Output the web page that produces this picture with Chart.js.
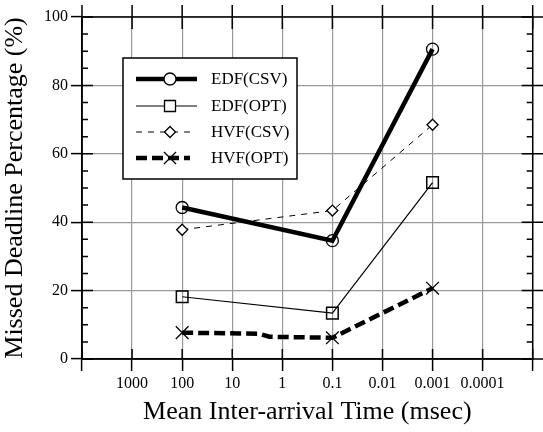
<!DOCTYPE html>
<html>
<head>
<meta charset="utf-8">
<script src="https://cdn.jsdelivr.net/npm/chart.js@4.4.1/dist/chart.umd.min.js"></script>
<style>
  html, body { margin: 0; padding: 0; background: #fff; }
  canvas { display: block; }
</style>
</head>
<body>
<canvas id="chart" width="543" height="432"></canvas>
<script>
// tick labels of the x axis (first and last grid line carry no label)
let xLabels = ['', '1000', '100', '10', '1', '0.1', '0.01', '0.001', '0.0001', ''];
// where the measured points sit: 100, 0.1, 0.001 msec
let xAt = [2, 5, 7];

let edfCsv = [44.3, 34.6, 90.6];
let edfOpt = [18.2, 13.4, 51.6];
let hvfCsv = [37.8, 43.4, 68.5];
// HVF(OPT) line has a small step between 10 and 1
let hvfOptX = [2, 3.54, 3.74, 5, 7];
let hvfOpt = [7.7, 7.4, 6.5, 6.2, 20.7];
let hvfOptMark = [1, 0, 0, 1, 1];

let serif = "'Liberation Serif', 'Times New Roman', serif";

function pts(xs, ys) {
    return ys.map(function (y, i) { return {x: xs[i], y: y}; });
}

// closed box, ticks on all four sides, minor ticks on y
let frame = {
    id: 'frame',
    beforeDatasetsDraw: function (chart) {
        let ctx = chart.ctx;
        let a = chart.chartArea;
        let xs = chart.scales.x;
        let ys = chart.scales.y;
        ctx.save();
        ctx.strokeStyle = '#000';
        ctx.lineWidth = 1.5;
        ctx.strokeRect(a.left, a.top, a.right - a.left, a.bottom - a.top);
        ctx.beginPath();
        for (let v = 0; v < xLabels.length; v++) {
            let px = xs.getPixelForValue(v);
            ctx.moveTo(px, a.top - 12);
            ctx.lineTo(px, a.top + 12);
            ctx.moveTo(px, a.bottom - 10);
            ctx.lineTo(px, a.bottom);
        }
        for (let v = 0; v <= 100; v += 5) {
            let py = ys.getPixelForValue(v);
            let len = v % 20 === 0 ? 11 : 6;
            ctx.moveTo(a.left, py);
            ctx.lineTo(a.left + len, py);
            ctx.moveTo(a.right - len, py);
            ctx.lineTo(a.right + (v % 20 === 0 ? 11 : 0), py);
        }
        ctx.stroke();
        ctx.restore();
    }
};

function marker(ctx, style, x, y) {
    ctx.beginPath();
    if (style === 'circle') {
        ctx.arc(x, y, 6, 0, Math.PI * 2);
    } else if (style === 'rect') {
        ctx.rect(x - 5.5, y - 5.5, 11, 11);
    } else if (style === 'rectRot') {
        ctx.moveTo(x, y - 5.5);
        ctx.lineTo(x + 5.5, y);
        ctx.lineTo(x, y + 5.5);
        ctx.lineTo(x - 5.5, y);
        ctx.closePath();
    } else {
        ctx.moveTo(x - 6, y - 6);
        ctx.lineTo(x + 6, y + 6);
        ctx.moveTo(x + 6, y - 6);
        ctx.lineTo(x - 6, y + 6);
    }
    if (style !== 'crossRot') {
        ctx.fillStyle = '#fff';
        ctx.fill();
    }
    ctx.stroke();
}

// legend box inside the plot
let boxLegend = {
    id: 'boxLegend',
    afterDraw: function (chart) {
        let ctx = chart.ctx;
        ctx.save();
        ctx.fillStyle = '#fff';
        ctx.fillRect(123, 58, 174, 121);
        ctx.strokeStyle = '#000';
        ctx.lineWidth = 1.5;
        ctx.strokeRect(123, 58, 174, 121);
        let rows = [79, 106, 132, 158];
        chart.data.datasets.forEach(function (ds, i) {
            let y = rows[i];
            ctx.strokeStyle = '#000';
            ctx.lineWidth = ds.borderWidth;
            ctx.setLineDash(ds.borderDash || []);
            ctx.beginPath();
            ctx.moveTo(136, y);
            ctx.lineTo(i < 2 ? 197 : 190, y);
            ctx.stroke();
            ctx.setLineDash([]);
            ctx.lineWidth = 1.3;
            marker(ctx, ds.pointStyle, 170, y);
            ctx.fillStyle = '#000';
            ctx.font = '17px ' + serif;
            ctx.textBaseline = 'middle';
            ctx.textAlign = 'left';
            ctx.fillText(ds.label, 211, y + 1);
        });
        ctx.restore();
    }
};

let ctx = document.getElementById('chart').getContext('2d');

new Chart(ctx, {
    type: 'line',
    data: {
        datasets: [
            {
                label: 'EDF(CSV)',
                data: pts(xAt, edfCsv),
                borderColor: '#000',
                borderWidth: 4.5,
                pointStyle: 'circle',
                pointRadius: 6,
                pointBorderWidth: 1.3,
                pointBorderColor: '#000',
                pointBackgroundColor: 'rgba(0,0,0,0)'
            },
            {
                label: 'EDF(OPT)',
                data: pts(xAt, edfOpt),
                borderColor: '#000',
                borderWidth: 1.2,
                pointStyle: 'rect',
                pointRadius: 8.2,
                pointBorderWidth: 1.5,
                pointBorderColor: '#000',
                pointBackgroundColor: 'rgba(0,0,0,0)'
            },
            {
                label: 'HVF(CSV)',
                data: pts(xAt, hvfCsv),
                borderColor: '#000',
                borderWidth: 1,
                borderDash: [6, 6],
                pointStyle: 'rectRot',
                pointRadius: 5.5,
                pointBorderWidth: 1.3,
                pointBorderColor: '#000',
                pointBackgroundColor: '#fff'
            },
            {
                label: 'HVF(OPT)',
                data: pts(hvfOptX, hvfOpt),
                borderColor: '#000',
                borderWidth: 4.5,
                borderDash: [11, 5],
                pointStyle: 'crossRot',
                pointRadius: hvfOptMark.map(function (m) { return m ? 9 : 0; }),
                pointBorderWidth: 1.3,
                pointBorderColor: '#000'
            }
        ]
    },
    options: {
        responsive: false,
        animation: false,
        devicePixelRatio: 1,
        layout: {padding: {top: 17, right: 4, left: 0, bottom: 0}},
        elements: {line: {tension: 0, fill: false}},
        plugins: {
            legend: {display: false},
            tooltip: {enabled: false}
        },
        scales: {
            x: {
                type: 'linear',
                min: 0,
                max: 9,
                afterFit: function (s) { s.height = 73; },
                ticks: {
                    stepSize: 1,
                    autoSkip: false,
                    maxRotation: 0,
                    padding: 3,
                    color: '#000',
                    font: {family: serif, size: 16},
                    callback: function (v) { return xLabels[v] || ''; }
                },
                grid: {
                    color: '#999',
                    lineWidth: 1.2,
                    tickLength: 12,
                    tickColor: '#000',
                    tickWidth: 1.5
                },
                border: {color: '#000', width: 1.5},
                title: {
                    display: true,
                    text: 'Mean Inter-arrival Time (msec)',
                    color: '#000',
                    font: {family: serif, size: 26, lineHeight: 1},
                    padding: {top: 0, bottom: 7}
                }
            },
            y: {
                min: 0,
                max: 100,
                afterFit: function (s) { s.width = 82; },
                ticks: {
                    stepSize: 20,
                    padding: 3,
                    color: '#000',
                    font: {family: serif, size: 16}
                },
                grid: {
                    color: '#999',
                    lineWidth: 1.2,
                    tickLength: 11,
                    tickColor: '#000',
                    tickWidth: 1.5
                },
                border: {color: '#000', width: 1.5},
                title: {
                    display: true,
                    text: 'Missed Deadline Percentage (%)',
                    color: '#000',
                    font: {family: serif, size: 26, lineHeight: 1},
                    padding: {top: 2, bottom: 0}
                }
            }
        }
    },
    plugins: [frame, boxLegend]
});
</script>
</body>
</html>
